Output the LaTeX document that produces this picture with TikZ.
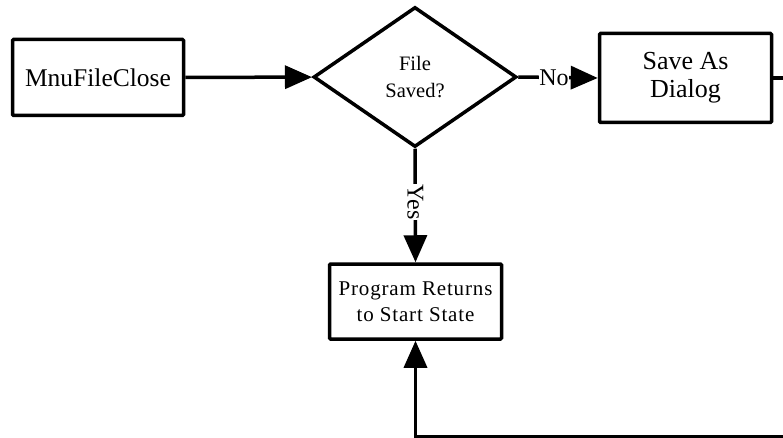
\documentclass[tikz,border=0pt]{standalone}
\usepackage{fontspec}
\setmainfont{Liberation Serif}
\newfontfamily\spacedfont[LetterSpace=4]{Liberation Serif}
\usetikzlibrary{shapes.geometric,arrows.meta}
\begin{document}
\begin{tikzpicture}[x=1pt,y=-1pt,
  every node/.style={inner sep=0pt,align=center},
  procbox/.style={draw,line width=3.5pt,rounded corners=1pt},
  decision/.style={draw,diamond,line width=3.5pt},
  flow/.style={line width=3.5pt,-{Triangle[length=27pt,width=23pt]}},
  edgelabel/.style={fill=white,inner sep=0.5pt,font=\fontsize{24}{26}\selectfont}]
\useasboundingbox (0,0) rectangle (783,438);
\clip (0,0) rectangle (783,438);

% process steps
\node[procbox,minimum width=171pt,minimum height=76pt,
      font=\fontsize{25.5}{28}\selectfont] (close) at (98,77.5) {MnuFileClose};
\node[decision,minimum width=203pt,minimum height=140pt,
      font=\fontsize{20.5}{27}\selectfont] (saved) at (415,77) {File\\Saved?};
\node[procbox,minimum width=172pt,minimum height=89pt,
      font=\fontsize{26}{28}\selectfont] (saveas) at (685.5,78) {Save As\\Dialog};
\node[procbox,minimum width=172pt,minimum height=75pt,
      font=\spacedfont\fontsize{21}{26}\selectfont] (home) at (415.5,301.5) {Program Returns\\to Start State};

% loop-back route
\coordinate (outR) at (800,78);
\coordinate (outB) at (800,436.5);

% connectors
\draw[flow] (close) -- (saved);
\draw[flow] (saved.east) -- (saveas.west) node[edgelabel,pos=0.45] {No};
\draw[flow] (saved.south) -- (home.north) node[edgelabel,pos=0.47,rotate=-90] {Yes};
\draw[flow] (saveas.east) -- (outR) -- (outB) -| (home.south);
\end{tikzpicture}
\end{document}
